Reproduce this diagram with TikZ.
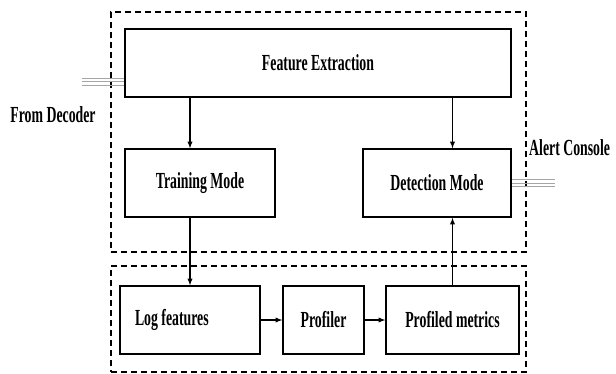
\documentclass[tikz,border=0pt]{standalone}
\usepackage{fontspec}
\setmainfont{Liberation Serif}[FakeStretch=0.6]
\begin{document}
\begin{tikzpicture}[x=1pt,y=-1pt,>=latex,
    blk/.style={draw,line width=1.3pt,minimum height=68pt,inner sep=0pt,font=\bfseries\fontsize{23}{26}\selectfont},
    grp/.style={draw,line width=1.2pt,dash pattern=on 6pt off 4pt,inner sep=0pt},
    lbl/.style={inner sep=0pt,font=\bfseries\fontsize{23}{26}\selectfont},
    feed/.style={draw=gray!70,line width=0.9pt},
    flow/.style={->,line width=1.3pt}]
    \useasboundingbox (0,0) rectangle (616,373);
    \node[grp,minimum width=415pt,minimum height=240pt] (upper) at (318.5,132) {};
    \node[grp,minimum width=415pt,minimum height=106pt] (lower) at (318.5,319) {};
    \node[blk,minimum width=386pt] (fe) at (318,63) {Feature Extraction};
    \node[blk,minimum width=150pt] (train) at (200,183) {Training Mode};
    \node[blk,minimum width=148pt] (detect) at (437,183) {Detection Mode};
    \node[blk,minimum width=140pt,text width=110pt,inner xsep=15pt,align=flush left] (logf) at (190,320) {Log features};
    \node[blk,minimum width=81pt] (prof) at (323.5,320) {Profiler};
    \node[blk,minimum width=133pt] (pmet) at (452.5,320) {Profiled metrics};
    \node[lbl] (fromdec) at (53,115) {From Decoder};
    \node[lbl,anchor=west] (alert) at (529,148) {Alert Console};
    \coordinate (decin) at (82,81.5);
    \coordinate (decend) at (decin -| fe.west);
    \coordinate (alertout) at (555,183);
    \foreach \d in {-3.5,0,3.5} {
        \draw[feed] ([yshift=\d pt]decin) -- ([yshift=\d pt]decend);
        \draw[feed] ([yshift=\d pt]detect.east) -- ([yshift=\d pt]alertout);
    }
    \draw[flow] (fe.south -| logf.north) -- (train.north -| logf.north);
    \draw[flow] (train.south -| logf.north) -- (logf.north);
    \draw[flow] (fe.south -| pmet.north) -- (detect.north -| pmet.north);
    \draw[flow] (pmet.north) -- (detect.south -| pmet.north);
    \draw[flow] (logf) -- (prof);
    \draw[flow] (prof) -- (pmet);
\end{tikzpicture}
\end{document}
